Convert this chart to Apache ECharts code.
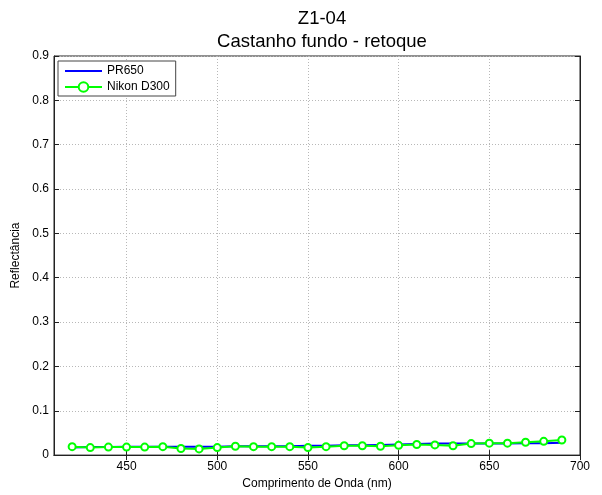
<!DOCTYPE html>
<html>
<head>
<meta charset="utf-8">
<script src="https://cdn.jsdelivr.net/npm/echarts@6/dist/echarts.min.js"></script>
<style>
  html, body { margin: 0; padding: 0; background: #fff; }
  #chart { width: 602px; height: 495px; }
</style>
</head>
<body>
<div id="chart"></div>
<script>
// Wavelengths (nm) and reflectance samples for each instrument
const wavelengths = [420, 430, 440, 450, 460, 470, 480, 490, 500, 510, 520, 530, 540, 550,
                     560, 570, 580, 590, 600, 610, 620, 630, 640, 650, 660, 670, 680, 690];
const pr650 = [0.017, 0.018, 0.018, 0.019, 0.019, 0.019, 0.019, 0.019, 0.019, 0.020, 0.020, 0.020, 0.020, 0.021,
               0.021, 0.022, 0.022, 0.023, 0.024, 0.025, 0.026, 0.026, 0.026, 0.026, 0.026, 0.027, 0.027, 0.028];
const nikonD300 = [0.019, 0.017, 0.018, 0.018, 0.018, 0.019, 0.015, 0.014, 0.017, 0.020, 0.019, 0.019, 0.019, 0.017,
                   0.019, 0.021, 0.021, 0.020, 0.022, 0.024, 0.023, 0.021, 0.026, 0.027, 0.027, 0.029, 0.031, 0.034];
const xTicks = [450, 500, 550, 600, 650, 700];

const pairs = (xs, ys) => xs.map((x, i) => [x, ys[i]]);
const font = 'Arial, "Liberation Sans", sans-serif';

const chart = echarts.init(document.getElementById('chart'), null, { renderer: 'canvas' });

const gridLine = { show: true, lineStyle: { color: '#b8b8b8', type: [1, 2], width: 1 } };

chart.setOption({
  animation: false,
  backgroundColor: '#fff',
  title: {
    text: 'Z1-04\nCastanho fundo - retoque',
    left: 317, top: 2, textAlign: 'center',
    textStyle: { fontFamily: font, fontSize: 18.5, fontWeight: 'normal', color: '#000', lineHeight: 23 }
  },
  legend: {
    orient: 'vertical',
    left: 58, top: 61,
    padding: [4, 6, 3, 6],
    itemGap: 4,
    itemWidth: 37, itemHeight: 12,
    borderColor: '#444', borderWidth: 1,
    backgroundColor: '#fff',
    textStyle: { fontFamily: font, fontSize: 12, color: '#000' },
    data: [
      { name: 'PR650', itemStyle: { opacity: 0 } },
      { name: 'Nikon D300' }
    ]
  },
  grid: { left: 54, right: 22, top: 56, bottom: 36, show: true, borderColor: '#222', borderWidth: 1, containLabel: false },
  xAxis: [{
    type: 'value', min: 410, max: 700,
    name: 'Comprimento de Onda (nm)', nameLocation: 'middle', nameGap: 22,
    nameTextStyle: { fontFamily: font, fontSize: 12, color: '#000' },
    axisLine: { show: true, onZero: false, lineStyle: { color: '#222' } },
    axisTick: { show: true, inside: true, length: 5, customValues: xTicks, lineStyle: { color: '#222' } },
    axisLabel: { customValues: xTicks, fontFamily: font, fontSize: 12, color: '#000', margin: 6 },
    splitLine: gridLine
  }, {
    type: 'value', min: 410, max: 700, position: 'top',
    axisLine: { show: true, lineStyle: { color: '#222' } },
    axisTick: { show: true, inside: true, length: 5, customValues: xTicks, lineStyle: { color: '#222' } },
    axisLabel: { show: false },
    splitLine: { show: false }
  }],
  yAxis: [{
    type: 'value', min: 0, max: 0.9, interval: 0.1,
    name: 'Reflectância', nameLocation: 'middle', nameGap: 27,
    nameTextStyle: { fontFamily: font, fontSize: 12, color: '#000' },
    axisLine: { show: true, lineStyle: { color: '#222' } },
    axisTick: { show: true, inside: true, length: 5, lineStyle: { color: '#222' } },
    axisLabel: { fontFamily: font, fontSize: 12, color: '#000', margin: 5,
                 formatter: v => (Math.round(v * 10) / 10).toString() },
    splitLine: gridLine
  }, {
    type: 'value', min: 0, max: 0.9, interval: 0.1, position: 'right',
    axisLine: { show: true, lineStyle: { color: '#222' } },
    axisTick: { show: true, inside: true, length: 5, lineStyle: { color: '#222' } },
    axisLabel: { show: false },
    splitLine: { show: false }
  }],
  series: [{
    name: 'PR650', type: 'line',
    data: pairs(wavelengths, pr650),
    symbol: 'none',
    lineStyle: { color: '#0000ff', width: 2 },
    itemStyle: { color: '#0000ff' }
  }, {
    name: 'Nikon D300', type: 'line',
    data: pairs(wavelengths, nikonD300),
    symbol: 'emptyCircle', symbolSize: 7, showSymbol: true,
    lineStyle: { color: '#00ff00', width: 2 },
    itemStyle: { color: '#00ff00', borderColor: '#00ff00', borderWidth: 2 }
  }]
});
</script>
</body>
</html>
